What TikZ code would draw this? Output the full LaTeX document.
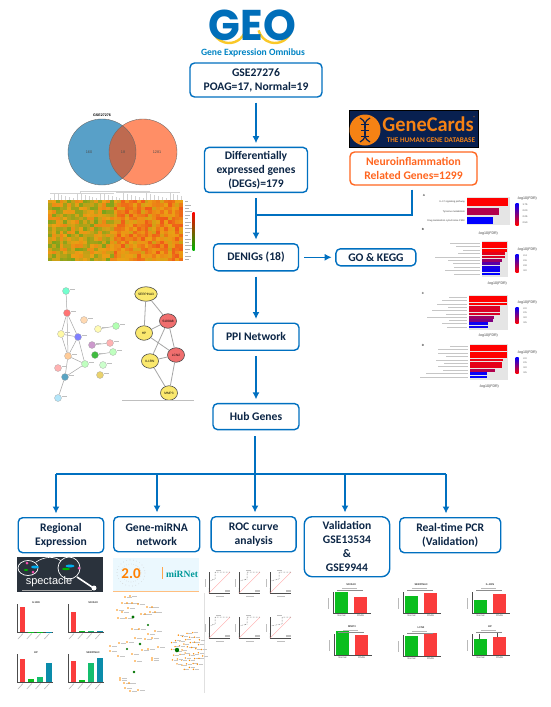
\documentclass[tikz,border=0pt]{standalone}
\usepackage{fontspec}
\setmainfont{Carlito}
\setsansfont{Liberation Sans}
\newfontfamily\logofont{Poppins}
\newfontfamily\serifmir{Liberation Serif}
\usetikzlibrary{arrows.meta,positioning,calc,shapes.geometric}
\definecolor{flowblue}{RGB}{0,112,192}
\definecolor{flownavy}{RGB}{12,38,70}
\definecolor{floworange}{RGB}{255,102,32}
\definecolor{hmgreen}{RGB}{80,165,30}
\definecolor{hmamber}{RGB}{235,160,20}
\definecolor{hmred}{RGB}{240,75,25}
\definecolor{geoblue}{RGB}{0,110,185}
\definecolor{geoyellow}{RGB}{250,200,40}
\definecolor{cardnavy}{RGB}{8,32,80}
\definecolor{cardorange}{RGB}{245,130,20}
\definecolor{netyellow}{RGB}{250,232,110}
\definecolor{netred}{RGB}{240,110,110}
\definecolor{barred}{RGB}{250,60,60}
\definecolor{bargreen}{RGB}{10,190,30}
\definecolor{barsea}{RGB}{20,190,110}
\definecolor{barteal}{RGB}{10,140,170}
\definecolor{vennblue}{RGB}{88,160,200}
\definecolor{vennorange}{RGB}{255,142,102}
\definecolor{vennmix}{RGB}{190,106,80}
\definecolor{specdark}{RGB}{42,50,60}

\newcommand{\tinyfont}[1]{\fontsize{#1}{#1}\selectfont\sffamily}

\newcommand{\gobars}[5]{%
  \fill[black!10] (#1,#2-1) rectangle (#4,#2+#3*10+1);
  \foreach \barend/\barmix/\barlab [count=\barnum from 0] in {#5} {
    \fill[red!\barmix!blue] (#1,#2+\barnum*#3) rectangle (\barend,#2+\barnum*#3+#3*.82);
    \draw[gray!45,line width=.6pt] (#1-2.5,#2+\barnum*#3+#3*.4) -- ++(-\barlab,0);
  }
}
\newcommand{\golegend}[4]{%
  \node[tinylab,font=\tinyfont{3.6}] (legtitle#1) at (527,#2) {-log10(FDR)};
  \shade[top color=blue,bottom color=red] (515.5,#2+4) rectangle (518.5,#2+#3);
  \foreach \leglab [count=\legnum from 0] in {#4}
    \node[tinylab] (leglab#1\legnum) at (525,#2+5.5+\legnum*#3/4.4) {\leglab};
}
\newcommand{\regionbars}[6]{%
  \draw[black!70,line width=.25pt] (#1,#2-28) -- (#1,#2) -- (#1+36,#2);
  \foreach \bartop/\barcol [count=\barnum from 0] in {#4} {
    \fill[\barcol] (#1+2.5+\barnum*8.8,\bartop) rectangle ++(5.8,#2-\bartop);
    \draw[gray!55,line width=.6pt] (#1+6+\barnum*8.8,#2+1.5) -- ++(-5,5.5);
  }
  \node[tinylab,font=\tinyfont{2.6}\bfseries] (regtitle#5) at (#1+#6,#2-29.5) {#3};
}
\newcommand{\rocplot}[3]{%
  \draw[black!70,line width=.2pt] (#1,#2-21) -- (#1,#2) -- (#1+21,#2);
  \draw[red!35,line width=.35pt] (#1,#2) -- (#1+21,#2-21);
  \draw[black!70,densely dotted,line width=.5pt] (#1,#2) -- (#1+.5,#2-12) -- (#1+#3,#2-14) -- (#1+#3,#2-21) -- (#1+21,#2-21);
  \draw[gray!50,line width=.45pt] (#1+16,#2-3) -- ++(5,0) (#1+16,#2-1.5) -- ++(5,0) (#1+7,#2+3) -- ++(8,0) (#1+7,#2-23) -- ++(5,0) (#1-4,#2-14) -- ++(0,8);
}
\newcommand{\valbars}[6]{%
  \draw[black!70,line width=.2pt] (#1,#2-21) -- (#1,#2) -- (#1+38,#2);
  \fill[bargreen] (#1+2,#4) rectangle (#1+15,#2);
  \fill[barred] (#1+21,#5) rectangle (#1+34,#2);
  \draw[black!45,line width=.2pt] (#1+4,#2-22.5) -- ++(26,0);
  \node[tinylab,font=\tinyfont{2.6}\bfseries] (valtitle#6) at (#1+18,#2-28) {#3};
  \node[tinylab] (valnorm#6) at (#1+8.5,#2+2.6) {Normal};
  \node[tinylab] (valpoag#6) at (#1+27.5,#2+2.6) {POAG};
  \draw[gray!55,line width=.45pt] (#1-5,#2-15) -- ++(0,11) (#1+9,#2-24.5) -- ++(15,0);
}

\begin{document}
\begin{tikzpicture}[x=1pt,y=-1pt,
  flowbox/.style={draw=flowblue, line width=1.4pt, rounded corners=4.5pt, align=center, text=flownavy,
                  font=\fontsize{11.6}{14}\selectfont\bfseries, inner sep=0pt},
  arr/.style={-{Latex[length=7pt,width=7pt]}, draw=flowblue, line width=1.4pt, shorten <=5pt, shorten >=3.5pt},
  conn/.style={draw=flowblue, line width=1.4pt},
  tinylab/.style={font=\tinyfont{2.4}, text=black!75, inner sep=0pt},
  netnode/.style={draw=black!35, circle, line width=.25pt, minimum size=7pt, inner sep=0pt, fill=#1},
  genenode/.style={draw=black!70, ellipse, line width=.6pt, fill=#1, minimum width=17pt, minimum height=14.5pt, inner sep=0pt, font=\tinyfont{3.2}},
  netedge/.style={draw=black!35, line width=.8pt},
  mirdot/.style={fill=orange!90!yellow},
  mirhub/.style={fill=green!45!black}
]
\useasboundingbox (0,0) rectangle (550,707);
\fill[white] (0,0) rectangle (550,707);

\draw[geoyellow, line width=2.4pt] (229,26) ++(15:17) arc (15:165:17);
\draw[geoyellow, line width=2.4pt] (275,26) ++(15:17) arc (15:165:17);
\node[font=\logofont\bfseries\fontsize{43}{43}\selectfont, text=geoblue, xscale=.97, inner sep=0pt, text height=30pt, text depth=0pt] (geologo) at (252.5,25) {GEO};
\node[font=\fontsize{9.6}{10}\selectfont\bfseries, text=geoblue!85!cyan, inner sep=0pt] (geoname) at (253,52.5) {Gene Expression Omnibus};

\node[flowbox, minimum width=132pt, minimum height=34pt] (gse) at (256,80) {GSE27276\\POAG=17, Normal=19};
\node[flowbox, minimum width=103pt, minimum height=45pt] (degs) [below=49pt of gse] {Differentially\\expressed genes\\(DEGs)=179};
\node[flowbox, minimum width=85pt, minimum height=27pt] (denigs) [below=50pt of degs] {DENIGs (18)};
\node[flowbox, minimum width=86pt, minimum height=27pt] (ppi) [below=51pt of denigs] {PPI Network};
\node[flowbox, minimum width=86pt, minimum height=26pt] (hub) [below=52pt of ppi] {Hub Genes};
\node[flowbox, minimum width=80pt, minimum height=17pt] (go) [right=36pt of denigs] {GO \& KEGG};
\node[flowbox, draw=floworange, text=floworange, minimum width=127pt, minimum height=33pt] (neuro) at (413.5,168.5) {Neuroinflammation\\Related Genes=1299};

\node[fill=cardnavy, draw=black, minimum width=129pt, minimum height=37pt, inner sep=0pt] (gcards) [above=3.5pt of neuro] {};
\fill[cardorange] (365,130) circle (15.5);
\draw[cardnavy, line width=1.2pt] (360,118) .. controls (372,124) and (358,136) .. (370,142);
\draw[cardnavy, line width=1.2pt] (370,118) .. controls (358,124) and (372,136) .. (360,142);
\draw[cardnavy, line width=1pt] (361,124) -- (369,124) (361,130) -- (369,130) (361,136) -- (369,136);
\node[font=\fontsize{21}{21}\selectfont\bfseries, text=cardorange, inner sep=0pt, xscale=.97, text height=14pt, text depth=0pt] (gcname) at (428,124.5) {GeneCards};
\node[font=\fontsize{7.2}{8}\selectfont\bfseries, text=cardorange, inner sep=0pt] (gcsub) at (431,140) {THE HUMAN GENE DATABASE};
\node[font=\fontsize{4.5}{5}\selectfont, text=cardorange, inner sep=0pt] (gcreg) at (474.5,118) {®};

\node[flowbox, minimum width=85.5pt, minimum height=35pt, anchor=north west] (regional) at (17.5,517) {Regional\\Expression};
\node[flowbox, minimum width=86pt, minimum height=35pt, anchor=north west] (mirna) at (113,516) {Gene-miRNA\\network};
\node[flowbox, minimum width=85pt, minimum height=35pt] (roc) [right=10pt of mirna] {ROC curve\\analysis};
\node[flowbox, rounded corners=8pt, minimum width=85.5pt, minimum height=60pt, anchor=north west] (valid) at (303.5,516) {Validation\\GSE13534\\\&\\GSE9944};
\node[flowbox, minimum width=101pt, minimum height=35pt, anchor=north west] (realpcr) at (399,517) {Real-time PCR\\(Validation)};

\coordinate (join) at (255,215);
\coordinate (bus1) at (56,474);
\coordinate (bus2) at (157,474);
\coordinate (bus3) at (255,474);
\coordinate (bus4) at (345,474);
\coordinate (bus5) at (446,474);

\draw[arr] (gse.south -| degs) -- (degs);
\draw[arr] (degs) -- (denigs);
\draw[conn, shorten <=4pt] (neuro.south -| 412,0) |- (join);
\draw[arr] (denigs) -- (go);
\draw[arr] (denigs) -- (ppi);
\draw[arr] (ppi) -- (hub);
\draw[conn, shorten <=6pt] (hub.south -| bus3) -- (bus3);
\draw[conn] (bus1) -- (bus5);
\draw[arr, shorten <=0pt] (bus1) -- (bus1 |- regional.north);
\draw[arr, shorten <=0pt] (bus2) -- (bus2 |- mirna.north);
\draw[arr, shorten <=0pt] (bus3) -- (bus3 |- roc.north);
\draw[arr, shorten <=0pt] (bus4) -- (bus4 |- valid.north);
\draw[arr, shorten <=0pt] (bus5) -- (bus5 |- realpcr.north);

\node[font=\tinyfont{3.6}\bfseries, inner sep=0pt] (venntitle) at (102,115) {GSE27276};
\fill[vennblue] (102,152) circle (34 and 33);
\fill[vennorange] (143,152) circle (34 and 33);
\begin{scope}
  \clip (102,152) circle (34 and 33);
  \fill[vennmix] (143,152) circle (34 and 33);
\end{scope}
\draw[black!60, line width=.35pt] (102,152) circle (34 and 33) (143,152) circle (34 and 33);
\node[font=\tinyfont{3.8}, text=black!70, inner sep=0pt] (vennleft) at (89,152) {160};
\node[font=\tinyfont{3.8}, text=black!70, inner sep=0pt] (vennmid) at (123,152) {18};
\node[font=\tinyfont{3.8}, text=black!70, inner sep=0pt] (vennright) at (157,152) {1281};

\pgfmathsetseed{27276}
\foreach \hmc in {0,...,34} {
  \foreach \hmr in {0,...,17} {
    \pgfmathsetmacro\hmv{min(100,max(0,rnd*52+(\hmc<17?14:40)))}
    \ifdim\hmv pt<50pt
      \pgfmathsetmacro\hmw{int(2*\hmv)}
      \fill[hmamber!\hmw!hmgreen] (48+\hmc*3.86,200+\hmr*3.4) rectangle ++(3.9,3.45);
    \else
      \pgfmathsetmacro\hmw{int(2*\hmv-100)}
      \fill[hmred!\hmw!hmamber] (48+\hmc*3.86,200+\hmr*3.4) rectangle ++(3.9,3.45);
    \fi
  }
  \draw[gray!35, line width=.2pt] (48+\hmc*3.86+2,200) -- ++(0,{-2-mod(\hmc*5,6)});
}
\draw[gray!35, line width=.2pt] (50,193) -- (114,193) (116,192) -- (180,192) (80,193) -- (80,191.5) -- (150,191.5);
\foreach \hmr in {0,...,17}
  \draw[gray!60, line width=.6pt] (185,201.5+\hmr*3.4) -- ++({3+mod(\hmr*3,5)},0);
\shade[top color=red, middle color=yellow, bottom color=green!70!black] (192.5,212) rectangle (194.5,250);

\node[netnode=green!35!cyan!55] (nodea) at (66,291) {};
\node[netnode=red!55] (nodeb) at (67,313) {};
\node[netnode=orange!30] (nodec) at (84,320) {};
\node[netnode=yellow!35] (noded) at (61,334) {};
\node[netnode=blue!50] (nodee) at (78,337) {};
\node[netnode=yellow!30] (nodef) at (98,329) {};
\node[netnode=green!30] (nodeg) at (116,326) {};
\node[netnode=violet!40] (nodeh) at (92,345) {};
\node[netnode=red!30] (nodei) at (110,343) {};
\node[netnode=green!65!black!75] (nodej) at (95,355) {};
\node[netnode=green!25] (nodek) at (113,352) {};
\node[netnode=orange!40] (nodel) at (68,356) {};
\node[netnode=green!25] (nodem) at (85,364) {};
\node[netnode=red!30] (noden) at (58,368) {};
\node[netnode=green!20] (nodeo) at (103,365) {};
\node[netnode=cyan!70!black!80] (nodep) at (65,377) {};
\node[netnode=yellow!50!brown!70] (nodeq) at (100,375) {};
\node[netnode=cyan!30] (noder) at (58,398) {};
\foreach \from/\to in {a/b,b/d,b/e,d/e,d/l,e/l,e/m,b/l,l/m,l/p,m/p,p/r,f/g,h/i,j/k}
  \draw[netedge, line width=.5pt] (node\from) -- (node\to);
\foreach \nodelab in {a,...,r}
  \draw[gray!50, line width=.4pt] ($(node\nodelab.east)+(.5,-2)$) -- ++(5,0);

\node[genenode=netyellow] (serpina) at (146,294) {SERPINA3};
\node[genenode=netred] (sapp) at (168,321) {S100A8};
\node[genenode=netyellow] (hpgene) at (144,333) {HP};
\node[genenode=netred] (lcn) at (176,355) {LCN2};
\node[genenode=netyellow] (ilrn) at (150,361) {IL1RN};
\node[genenode=netyellow] (mmp) at (169,393) {MMP3};
\draw[netedge] (serpina) -- (hpgene);
\draw[netedge] (serpina) -- (sapp);
\draw[netedge] (hpgene) -- (sapp);
\draw[netedge] (hpgene) -- (lcn);
\draw[netedge] (sapp) -- (ilrn);
\draw[netedge] (sapp) -- (lcn);
\draw[netedge] (ilrn) -- (lcn);
\draw[netedge] (ilrn) -- (mmp);
\draw[netedge] (lcn) -- (mmp);
\draw[black!25, line width=.5pt] (122,400) -- (194,400);

\node[tinylab, font=\tinyfont{3}\bfseries] (panela) at (424,195) {A};
\node[tinylab, font=\tinyfont{3}\bfseries] (panelb) at (423,229) {B};
\node[tinylab, font=\tinyfont{3}\bfseries] (panelc) at (423,293) {C};
\node[tinylab, font=\tinyfont{3}\bfseries] (paneld) at (423,345) {D};
\fill[black!10] (467,197) rectangle (510,225);
\fill[red] (467,198) rectangle (508,206);
\fill[red!70!blue] (467,208) rectangle (499,215);
\fill[blue] (467,217) rectangle (493,224);
\node[tinylab, anchor=east] (glab1) at (465,202) {IL-17 signaling pathway};
\node[tinylab, anchor=east] (glab2) at (465,211.5) {Tyrosine metabolism};
\node[tinylab, anchor=east] (glab3) at (465,220.5) {Drug metabolism cytochrome P450};
\gobars{482}{242}{3.4}{508}{507.3/100/30,507.3/100/24,507.3/100/17,505.3/90/22,504.7/85/45,502/60/32,500.3/35/27,500.3/10/26,500.3/5/35,500.3/0/26}
\gobars{469}{296}{3.3}{508}{506.7/100/18,506.7/100/25,506.7/100/30,500/85/19,500/85/35,500/85/21,494/60/40,492.7/50/18,488/5/25,488/5/20}
\gobars{470}{345}{3.4}{508}{506.7/100/18,506.7/100/30,506.7/100/30,506.7/100/22,503/92/32,501.7/90/24,501.7/90/30,494.7/70/25,487.3/3/42,487.3/0/48}
\node[tinylab, font=\tinyfont{3.6}] (axisa) at (488,234) {-log10(FDR)};
\node[tinylab, font=\tinyfont{3.6}] (axisb) at (497,284) {-log10(FDR)};
\node[tinylab, font=\tinyfont{3.6}] (axisc) at (488,336) {-log10(FDR)};
\node[tinylab, font=\tinyfont{3.6}] (axisd) at (489,387) {-log10(FDR)};
\golegend{a}{199}{26}{1.75,2.00,2.25,2.50}
\golegend{b}{250}{22}{2.4,2.6,2.8,3.0}
\golegend{c}{303}{20.5}{2.0,2.5,3.0,3.5}
\golegend{d}{353}{20.5}{2.0,2.5,3.0,3.5}

\fill[specdark] (17,557) rectangle (103,592);
\draw[white, line width=.7pt] (28,568) ellipse (10 and 7.5) (69,568) circle (11);
\draw[white, line width=.6pt] (36,562) .. controls (45,556) and (55,556) .. (61,561);
\draw[white, line width=1.6pt] (77,577) -- (95,589);
\fill[white] (94,588) circle (2.5);
\fill[cyan] (35,567) ellipse (4 and 1.5);
\fill[magenta!70] (27,563) circle (1.5);
\fill[green!70!black] (26,570) ellipse (2 and 1);
\fill[magenta!70] (33,572) circle (1.5);
\fill[cyan] (70,566) ellipse (4.5 and 1.5);
\fill[green!70!black] (66,569) ellipse (4 and 1.2);
\fill[magenta!70] (79,568) circle (1.5);
\node[font=\tinyfont{11}, text=white, inner sep=0pt] (spectacle) at (49,581.5) {spectacle};
\draw[gray!70, line width=.4pt] (22,590) -- (92,590);

\regionbars{17}{632}{IL1RN}{607/barred,631.5/bargreen,631.5/bargreen,631.5/barteal}{a}{19}
\regionbars{68}{632}{S100A8}{612/barred,631/bargreen,631/barsea,631/barteal}{b}{25}
\regionbars{17}{682}{HP}{659/barred,679/bargreen,677/barsea,663/barteal}{c}{19}
\regionbars{68}{682}{SERPINA3}{661/barred,680/bargreen,663/barsea,658/barteal}{d}{25}

\fill[cyan!8] (113,558) rectangle (199,591.5);
\draw[orange!50, line width=.5pt] (113,591.5) -- (199,591.5);
\foreach \ringang in {0,14,...,350}
  \fill[black!22] ({131+14*cos(\ringang)},{573+13*sin(\ringang)}) circle (.35) ({131+10*cos(\ringang+6)},{573+9*sin(\ringang+6)}) circle (.3);
\node[font=\fontsize{15}{15}\selectfont\bfseries, text=orange, inner sep=0pt] (mirver) at (131,573.5) {2.0};
\draw[orange!70, line width=.8pt] (162,567) -- (162,579);
\node[font=\serifmir\bfseries\fontsize{9.6}{10}\selectfont, text=teal!80!cyan, inner sep=0pt] (mirname) at (182,574) {miRNet};
\draw[black!12, line width=.5pt] (204,593) -- (204,693);

\foreach \dotx/\doty in {125/597,130/596,122/603,127/603,132/603,138/604,117/610,122/612,128/608,118/618,126/618,
  147/607,152/607,150/612,155/612,141/614,145/614,132/629,139/629,148/634,155/631,135/638,145/639,152/638,
  110/646,119/643,110/651,127/642,118/656,132/654,135/661,142/650,148/649,158/647,152/658,152/660,
  120/678,124/683,129/683,125/688,130/691,138/690,120/680} {
  \fill[mirdot] (\dotx,\doty) circle (.8);
  \draw[gray!45, line width=.4pt] (\dotx+1.5,\doty) -- ++(5,0);
}
\foreach \ringnum in {1,...,46} {
  \pgfmathsetmacro\ringx{186+17*sqrt(\ringnum/46)*cos(137.5*\ringnum)+1}
  \pgfmathsetmacro\ringy{651+20*sqrt(\ringnum/46)*sin(137.5*\ringnum)}
  \fill[mirdot] (\ringx,\ringy) circle (.8);
  \draw[gray!45, line width=.4pt] (\ringx+1.2,\ringy) -- ++(4,0);
}
\foreach \hubx/\huby/\hubr in {133/617/1.7,148/625/1.2,140/644/1.4,127/649/1.2,177/650/2.2,134/672/1.4}
  \fill[mirhub] (\hubx,\huby) circle (\hubr);

\foreach \rocx/\rocy/\rocs in {209/593/6,239/593/8,270/593/9,209/638/6,239/638/8,270/638/12} {
  \rocplot{\rocx}{\rocy}{\rocs}
}

\valbars{333}{613}{S100A8}{592}{597}{a}
\valbars{403}{613}{SERPINA3}{596}{593}{b}
\valbars{472}{613}{IL-1RN}{600}{594}{c}
\valbars{334}{655}{MMP3}{631}{635}{d}
\valbars{403}{656}{LCN2}{636}{633}{e}
\valbars{472}{655}{HP}{639}{637}{f}
\draw[black!70, line width=.3pt] (479,634) -- (479,639) (497.5,633) -- (497.5,637);
\end{tikzpicture}
\end{document}
